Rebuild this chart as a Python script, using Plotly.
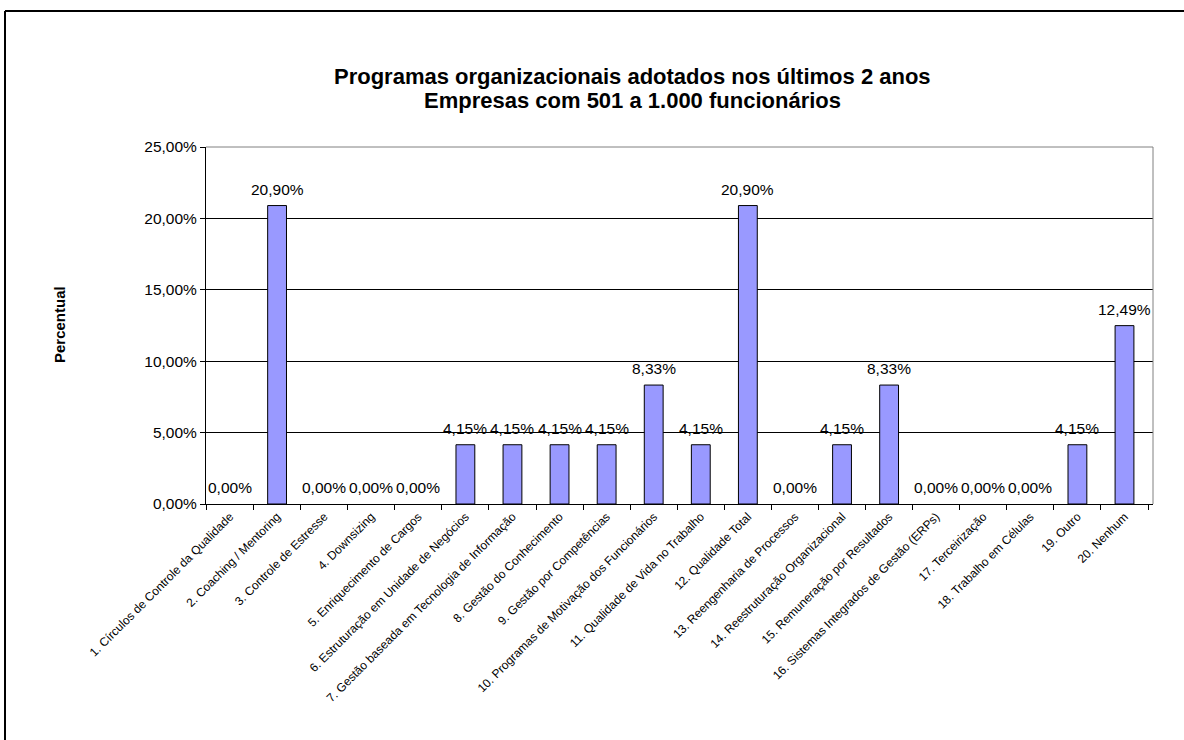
import plotly.graph_objects as go

# Programas adotados (eixo X) e percentuais de empresas (eixo Y)
categorias = [
    "1. Círculos de Controle da Qualidade",
    "2. Coaching / Mentoring",
    "3. Controle de Estresse",
    "4. Downsizing",
    "5. Enriquecimento de Cargos",
    "6. Estruturação em Unidade de Negócios",
    "7. Gestão baseada em Tecnologia de Informação",
    "8. Gestão do Conhecimento",
    "9. Gestão por Competências",
    "10. Programas de Motivação dos Funcionários",
    "11. Qualidade de Vida no Trabalho",
    "12. Qualidade Total",
    "13. Reengenharia de Processos",
    "14. Reestruturação Organizacional",
    "15. Remuneração por Resultados",
    "16. Sistemas Integrados de Gestão (ERPs)",
    "17. Terceirização",
    "18. Trabalho em Células",
    "19. Outro",
    "20. Nenhum",
]
percentuais = [0.00, 20.90, 0.00, 0.00, 0.00, 4.15, 4.15, 4.15, 4.15, 8.33,
               4.15, 20.90, 0.00, 4.15, 8.33, 0.00, 0.00, 0.00, 4.15, 12.49]

titulo_linhas = [
    "Programas organizacionais adotados nos últimos 2 anos",
    "Empresas com 501 a 1.000 funcionários",
]
titulo_eixo_y = "Percentual"

W, H = 1184, 740
ML, MR, MT, MB = 206, 31, 147, 236
PW, PH = W - ML - MR, H - MT - MB
FONTE = "Liberation Sans, Arial, sans-serif"


def px_x(px):
    return (px - ML) / PW


def px_y(py):
    return (H - MB - py) / PH


# barras de valor zero ficam sem contorno
contornos = [1 if v > 0 else 0 for v in percentuais]

fig = go.Figure(
    go.Bar(
        x=categorias,
        y=percentuais,
        marker=dict(color="#9999FF", line=dict(color="black", width=contornos)),
        hoverinfo="x+y",
    )
)

# Rótulos de valor acima de cada barra
anotacoes = []
for cat, v in zip(categorias, percentuais):
    anotacoes.append(dict(
        x=cat, y=v, xref="x", yref="y",
        text=f"{v:.2f}".replace(".", ",") + "%",
        showarrow=False, yanchor="bottom", yshift=6,
        font=dict(family=FONTE, size=15.5, color="black"),
    ))

# Título em duas linhas
for texto, cy in zip(titulo_linhas, [76, 100]):
    anotacoes.append(dict(
        x=px_x(632), y=px_y(cy), xref="paper", yref="paper",
        text=f"<b>{texto}</b>", showarrow=False,
        xanchor="center", yanchor="middle",
        font=dict(family=FONTE, size=22, color="black"),
    ))

# Título do eixo Y
anotacoes.append(dict(
    x=px_x(59), y=px_y(325), xref="paper", yref="paper",
    text=f"<b>{titulo_eixo_y}</b>", showarrow=False, textangle=-90,
    xanchor="center", yanchor="middle",
    font=dict(family=FONTE, size=15, color="black"),
))

formas = [
    # moldura externa do gráfico
    dict(type="line", xref="paper", yref="paper",
         x0=px_x(5), x1=px_x(1300), y0=px_y(11), y1=px_y(11),
         line=dict(color="black", width=2)),
    dict(type="line", xref="paper", yref="paper",
         x0=px_x(5), x1=px_x(5), y0=px_y(11), y1=px_y(800),
         line=dict(color="black", width=2)),
    # bordas superior e direita da área de plotagem
    dict(type="line", xref="paper", yref="paper", x0=0, x1=1, y0=1, y1=1,
         line=dict(color="#808080", width=1)),
    dict(type="line", xref="paper", yref="paper", x0=1, x1=1, y0=0, y1=1,
         line=dict(color="#808080", width=1)),
]

fig.update_layout(
    width=W, height=H,
    margin=dict(l=ML, r=MR, t=MT, b=MB, pad=0),
    paper_bgcolor="white", plot_bgcolor="white",
    separators=",.",
    bargap=0.6,
    showlegend=False,
    font=dict(family=FONTE, color="black"),
    annotations=anotacoes,
    shapes=formas,
    xaxis=dict(
        type="category",
        tickson="boundaries",
        ticks="outside", ticklen=5, tickcolor="black", tickwidth=1,
        showline=True, linecolor="black", linewidth=1,
        showgrid=False,
        tickangle=-45,
        tickfont=dict(family=FONTE, size=12, color="black"),
    ),
    yaxis=dict(
        range=[0, 25], dtick=5,
        tickformat=".2f", ticksuffix="%",
        ticks="outside", ticklen=5, tickcolor="black", tickwidth=1,
        showline=True, linecolor="black", linewidth=1,
        showgrid=True, gridcolor="black", gridwidth=1,
        zeroline=False,
        tickfont=dict(family=FONTE, size=15.5, color="black"),
    ),
)

fig.write_html("out.html")
